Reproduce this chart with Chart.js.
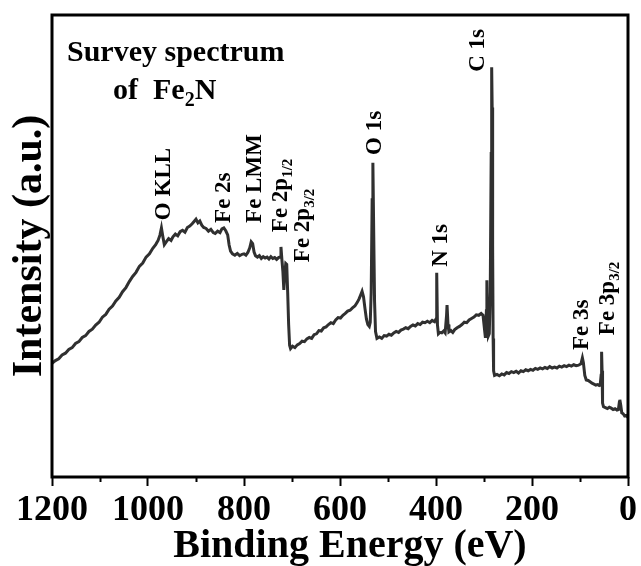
<!DOCTYPE html>
<html>
<head>
<meta charset="utf-8">
<script src="https://cdn.jsdelivr.net/npm/chart.js"></script>
<style>
  html, body { margin: 0; padding: 0; background: #fff; }
  canvas { display: block; }
</style>
</head>
<body>
<canvas id="xps" width="641" height="566" style="width:641px;height:566px"></canvas>
<script>
// XPS survey spectrum of Fe2N, [binding energy (eV), intensity (a.u.)]
const survey = [
  [1200,24.6],[1193,25.2],[1186,25.6],[1179,26.4],[1172,26.8],[1165,27.6],[1158,28.0],[1151,28.9],
  [1144,29.3],[1137,30.2],[1130,30.6],[1123,31.5],[1116,32.0],[1109,32.9],[1102,33.5],[1095,34.6],
  [1088,35.2],[1081,36.3],[1074,37.0],[1067,38.1],[1060,38.9],[1053,40.1],[1046,41.0],[1039,42.3],
  [1032,43.4],[1025,44.3],[1018,45.6],[1011,46.3],[1004,47.6],[997,48.3],[990,49.5],[984,50.3],
  [979,51.2],[975,52.4],[972,53.9],[969,52.0],[966,50.3],
  [962,50.9],[957,51.6],[952,51.2],[948,52.0],[943,52.6],[938,52.2],[933,53.1],[928,53.4],
  [923,53.0],[918,54.0],[913,54.3],[908,54.8],[904,55.3],[900,55.8],[896,55.0],[892,55.4],
  [888,54.5],[884,54.0],[879,53.8],[874,53.2],[869,53.6],[864,52.9],[860,52.7],[855,53.2],
  [850,52.9],[846,53.7],[842,53.9],[838,53.3],[834,52.4],[831,50.2],[828,48.9],[824,48.3],
  [819,48.0],[814,48.4],[809,47.9],[804,48.2],[800,48.3],[796,48.0],[792,48.6],[788,49.6],
  [785,50.9],[782,50.5],[779,48.7],[776,47.9],[772,47.6],[768,47.9],[764,47.3],[760,47.7],
  [756,47.4],[752,47.6],[748,47.2],[744,47.7],[740,47.3],[736,47.5],[732,47.1],[728,47.5],
  [725,47.6],[723,49.8],[721,47.0],[719,44.5],[717,40.5],[715,44.0],[713,46.2],[711,46.0],
  [709,40.0],[707,33.0],[705,28.5],[703,27.8],
  [699,28.3],[694,28.0],[689,28.6],[684,28.9],[679,29.4],[674,29.3],[669,29.9],[664,30.2],
  [659,30.0],[654,30.8],[649,31.0],[644,31.7],[639,31.6],[634,32.3],[629,32.5],[624,33.0],
  [619,33.4],[614,33.2],[609,34.0],[604,34.5],[599,34.4],[594,35.0],[589,35.4],[584,35.9],
  [579,36.1],[574,36.6],[569,37.0],[564,37.8],[560,38.6],[557,39.4],[554,40.2],[551,39.0],
  [548,36.5],[545,34.2],[542,33.0],[539,32.6],[537,33.5],[535,40.0],[533,60.0],[531.5,68.0],
  [530,55.0],[528,38.0],[526,31.5],[523,30.0],
  [518,30.3],[513,30.0],[508,30.6],[503,30.5],[498,30.9],[493,30.7],[488,31.2],[483,31.5],
  [478,31.3],[473,31.8],[468,32.0],[463,32.3],[458,32.1],[453,32.6],[448,32.9],[443,32.7],
  [438,33.2],[433,33.0],[428,33.5],[423,33.4],[418,33.7],[413,33.4],[408,33.9],[403,33.6],
  [400,34.2],[398.5,44.2],[397,33.0],[395,31.0],[392,31.3],[388,31.2],[384,31.6],[381,31.2],
  [378,35.0],[377,37.2],[375,33.0],[373,31.4],[369,31.7],[365,31.3],[361,31.9],[356,32.3],
  [351,32.6],[346,33.0],[341,33.5],[336,33.4],[331,34.0],[326,34.3],[321,34.6],[316,35.1],
  [311,35.0],[306,35.4],[302,35.0],[299,32.0],[297,30.1],[295,36.0],[294,42.6],[293,35.0],
  [291,30.5],[289,31.0],[287,40.0],[285,70.0],[284,88.7],[283,80.0],[282,50.0],[281,30.0],
  [280,23.0],[278,22.0],
  [273,22.2],[268,21.9],[263,22.3],[258,22.1],[253,22.6],[248,22.4],[243,22.8],[238,22.6],
  [233,22.9],[228,22.5],[223,23.0],[218,22.8],[213,23.2],[208,23.0],[203,23.3],[198,23.1],
  [193,23.5],[188,23.3],[183,23.6],[178,23.4],[173,23.7],[168,23.5],[163,23.9],[158,23.6],
  [153,23.8],[148,23.6],[143,24.0],[138,23.8],[133,24.1],[128,23.9],[123,24.2],[118,24.0],
  [113,24.3],[108,24.1],[103,24.2],[98,24.5],[95,25.8],[93,24.8],[90,22.0],[87,21.0],
  [83,20.9],[79,20.6],[75,20.3],[71,20.1],[67,19.9],[63,20.0],[60,19.8],[58,19.9],
  [56,22.0],[55,27.1],[54,23.0],[53,16.0],[51,15.2],[47,15.0],[43,14.8],[39,15.1],
  [35,14.9],[31,14.6],[27,14.8],[23,14.5],[20,14.6],[18,16.2],[17,16.7],[15,15.5],
  [13,13.9],[10,13.7],[7,13.2],[4,13.3],[1,13.0],[0,12.9]
];

// peak assignments (name + subscript)
const peakNames = ['O KLL', 'Fe 2s', 'Fe LMM', 'Fe 2p', 'Fe 2p', 'O 1s', 'N 1s', 'C 1s', 'Fe 3s', 'Fe 3p'];
const peakSubs  = ['', '', '', '1/2', '3/2', '', '', '', '', '3/2'];

const xTicks = [1200, 1000, 800, 600, 400, 200, 0];
const minorTicks = [1100, 900, 700, 500, 300, 100];

const FONT = '"Liberation Serif", "Times New Roman", serif';
const INK = '#000';

// where each peak label sits: [eV at label centre, intensity at label foot]
const peakSpots = [
  [971, 55.6], [846, 55.0], [781, 55.0], [727, 53.0], [681, 46.5],
  [531, 69.7], [392, 45.5], [315, 87.7], [100, 27.5], [46, 30.7]
];

function drawRich(ctx, parts, x, y, size) {
  let cx = x;
  parts.forEach(([t, sub]) => {
    const s = sub ? Math.round(size * 0.66) : size;
    ctx.font = `bold ${s}px ${FONT}`;
    ctx.fillText(t, cx, sub ? y + size * 0.22 : y);
    cx += ctx.measureText(t).width;
  });
}

const decorations = {
  id: 'decorations',
  afterDraw(chart) {
    const { ctx, chartArea: a, scales: { x, y } } = chart;
    ctx.save();
    // frame
    ctx.strokeStyle = INK;
    ctx.lineWidth = 3;
    ctx.strokeRect(a.left, a.top, a.right - a.left, a.bottom - a.top);
    // minor ticks
    ctx.lineWidth = 2;
    minorTicks.forEach(v => {
      const px = Math.round(x.getPixelForValue(v)) + 0.5;
      ctx.beginPath();
      ctx.moveTo(px, a.bottom);
      ctx.lineTo(px, a.bottom + 5);
      ctx.stroke();
    });
    ctx.fillStyle = INK;
    ctx.textBaseline = 'alphabetic';
    ctx.textAlign = 'left';
    // panel title
    drawRich(ctx, [['Survey spectrum', 0]], a.left + 15, a.top + 46, 30);
    drawRich(ctx, [['of  Fe', 0], ['2', 1], ['N', 0]], a.left + 61, a.top + 84, 30);
    // peak labels, rotated
    const size = 23;
    peakNames.forEach((name, i) => {
      const [e, v] = peakSpots[i];
      ctx.save();
      ctx.translate(x.getPixelForValue(e), y.getPixelForValue(v));
      ctx.rotate(-Math.PI / 2);
      const parts = [[name, 0]];
      if (peakSubs[i]) parts.push([peakSubs[i], 1]);
      drawRich(ctx, parts, 0, size * 0.33, size);
      ctx.restore();
    });
    ctx.restore();
  }
};

new Chart(document.getElementById('xps'), {
  type: 'line',
  data: {
    datasets: [{
      data: survey.map(([e, c]) => ({ x: e, y: c })),
      borderColor: '#303030',
      borderWidth: 3,
      pointRadius: 0,
      tension: 0,
      fill: false
    }]
  },
  options: {
    responsive: false,
    animation: false,
    devicePixelRatio: 1,
    layout: { padding: { top: 15, right: 13, left: 0, bottom: 0 } },
    plugins: { legend: { display: false }, tooltip: { enabled: false } },
    scales: {
      x: {
        type: 'linear',
        reverse: true,
        min: 0,
        max: 1200,
        afterBuildTicks: s => { s.ticks = xTicks.map(v => ({ value: v })); },
        ticks: {
          color: INK,
          padding: 3,
          maxRotation: 0,
          autoSkip: false,
          callback: v => String(v),
          font: { family: FONT, size: 36, weight: 'bold' }
        },
        grid: { display: true, drawOnChartArea: false, drawTicks: true, tickLength: 9, tickWidth: 2, tickColor: INK },
        border: { display: false },
        title: {
          display: true,
          text: '  Binding Energy (eV)',
          color: INK,
          padding: { top: 0, bottom: 0 },
          font: { family: FONT, size: 40, weight: 'bold', lineHeight: 0.95 }
        },
        afterFit: s => { s.height = 89; }
      },
      y: {
        min: 0,
        max: 100,
        ticks: { display: false },
        grid: { display: false },
        border: { display: false },
        title: {
          display: true,
          text: 'Intensity (a.u.)',
          color: INK,
          padding: { top: 9, bottom: 0 },
          font: { family: FONT, size: 42, weight: 'bold', lineHeight: 1 }
        },
        afterFit: s => { s.width = 52; }
      }
    }
  },
  plugins: [decorations]
});
</script>
</body>
</html>
